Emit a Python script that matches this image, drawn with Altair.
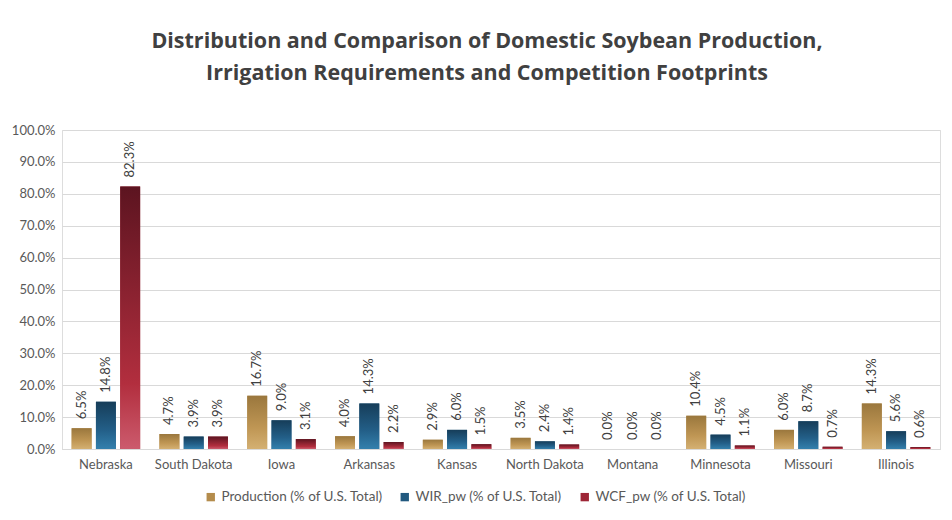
import altair as alt
import pandas as pd

# States on the x axis, in display order
states = ["Nebraska", "South Dakota", "Iowa", "Arkansas", "Kansas",
          "North Dakota", "Montana", "Minnesota", "Missouri", "Illinois"]

series_names = ["Production (% of U.S. Total)",
                "WIR_pw (% of U.S. Total)",
                "WCF_pw (% of U.S. Total)"]

# Percent of U.S. total for each series
production = [6.5, 4.7, 16.7, 4.0, 2.9, 3.5, 0.0, 10.4, 6.0, 14.3]
wir_pw = [14.8, 3.9, 9.0, 14.3, 6.0, 2.4, 0.0, 4.5, 8.7, 5.6]
wcf_pw = [82.3, 3.9, 3.1, 2.2, 1.5, 1.4, 0.0, 1.1, 0.7, 0.6]

y_ticks = [0.0, 0.1, 0.2, 0.3, 0.4, 0.5, 0.6, 0.7, 0.8, 0.9, 1.0]

rows = []
for name, values in zip(series_names, [production, wir_pw, wcf_pw]):
    for state, v in zip(states, values):
        rows.append({"state": state, "series": name,
                     "value": v / 100.0, "label": f"{v:.1f}%"})
df = pd.DataFrame(rows)

FONT = "Lato"
TITLE_FONT = "Open Sans"
solid_colors = ["#b48c4c", "#21597f", "#9e2636"]

gradients = {
    series_names[0]: alt.Gradient(
        gradient="linear", x1=0, x2=0, y1=0, y2=1,
        stops=[alt.GradientStop(color="#9a773d", offset=0),
               alt.GradientStop(color="#bf9654", offset=0.6),
               alt.GradientStop(color="#d4b072", offset=1)]),
    series_names[1]: alt.Gradient(
        gradient="linear", x1=0, x2=0, y1=0, y2=1,
        stops=[alt.GradientStop(color="#163d59", offset=0),
               alt.GradientStop(color="#235f88", offset=0.6),
               alt.GradientStop(color="#3380ad", offset=1)]),
    series_names[2]: alt.Gradient(
        gradient="linear", x1=0, x2=0, y1=0, y2=1,
        stops=[alt.GradientStop(color="#5c1420", offset=0),
               alt.GradientStop(color="#b22e3e", offset=0.75),
               alt.GradientStop(color="#cc5b6d", offset=1)]),
}

x_enc = alt.X(
    "state:N", sort=states,
    scale=alt.Scale(paddingInner=0.22, paddingOuter=0.11),
    axis=alt.Axis(title=None, labelAngle=0, labelFont=FONT, labelFontSize=13,
                  labelColor="#595959", labelPadding=9, ticks=False, grid=False,
                  domainColor="#d9d9d9", domainWidth=1),
)
xoff_enc = alt.XOffset(
    "series:N", sort=series_names,
    scale=alt.Scale(domain=series_names, paddingInner=0.18),
)
y_enc = alt.Y(
    "value:Q",
    scale=alt.Scale(domain=[0, 1], nice=False),
    axis=alt.Axis(title=None, format=".1%", values=y_ticks, labelFont=FONT,
                  labelFontSize=13, labelColor="#595959", labelPadding=7,
                  ticks=False, domain=False, gridColor="#d9d9d9"),
)

base = alt.Chart(df).encode(x=x_enc, xOffset=xoff_enc, y=y_enc)

# Solid bars carry the legend; gradient bars are drawn on top of them
solid = base.mark_bar().encode(
    color=alt.Color(
        "series:N", sort=series_names,
        scale=alt.Scale(domain=series_names, range=solid_colors),
        legend=alt.Legend(
            title=None, orient="none", direction="horizontal",
            legendX=142, legendY=360, symbolType="square", symbolSize=70,
            symbolStrokeWidth=0, symbolOffset=0, labelOffset=4,
            labelFont=FONT, labelFontSize=13.5,
            labelColor="#595959", columnPadding=15, labelLimit=300),
    )
)

grad_layers = [
    base.transform_filter(alt.datum.series == name).mark_bar(color=gradients[name])
    for name in series_names
]

labels = base.mark_text(
    angle=270, align="left", baseline="middle", dx=9,
    font=FONT, fontSize=13, color="#404040",
).encode(text="label:N")

chart = alt.layer(solid, *grad_layers, labels).properties(
    width=878, height=319,
    autosize=alt.AutoSizeParams(type="none"),
    padding={"left": 62, "top": 130, "right": 12, "bottom": 71},
    title=alt.TitleParams(
        ["Distribution and Comparison of Domestic Soybean Production,",
         "Irrigation Requirements and Competition Footprints"],
        font=TITLE_FONT, fontSize=21.5, fontWeight="bold", color="#404040",
        anchor="middle", dx=-14, offset=40, lineHeight=32),
).configure_view(stroke=None).configure(background="white")

chart.save("out.html", embed_options={"renderer": "svg", "actions": False})
